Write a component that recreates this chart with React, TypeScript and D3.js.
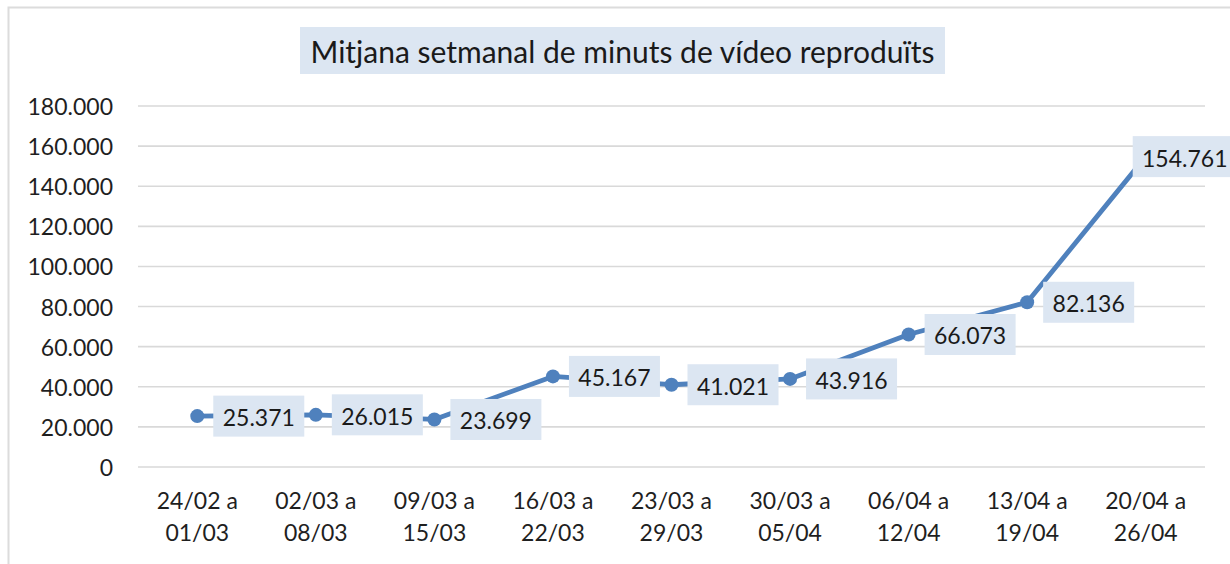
import React from "react";
import * as d3 from "d3";

const categories: string[][] = [
  ["24/02 a", "01/03"],
  ["02/03 a", "08/03"],
  ["09/03 a", "15/03"],
  ["16/03 a", "22/03"],
  ["23/03 a", "29/03"],
  ["30/03 a", "05/04"],
  ["06/04 a", "12/04"],
  ["13/04 a", "19/04"],
  ["20/04 a", "26/04"],
];
const values: number[] = [25371, 26015, 23699, 45167, 41021, 43916, 66073, 82136, 154761];
const yTicks: number[] = [0, 20000, 40000, 60000, 80000, 100000, 120000, 140000, 160000, 180000];
const title = "Mitjana setmanal de minuts de vídeo reproduïts";

const W = 1230;
const H = 564;
const FONT = "Lato, 'Open Sans', sans-serif";

const locale = d3.formatLocale({ decimal: ",", thousands: ".", grouping: [3], currency: ["", "€"] });
const fmt = locale.format(",d");

export default function App() {
  const keys = categories.map((c) => c.join(" "));
  const x = d3.scaleBand<string>().domain(keys).range([138, 1205]);
  const y = d3.scaleLinear().domain([0, 180000]).range([467, 106]);
  const cx = (i: number) => (x(keys[i]) as number) + x.bandwidth() / 2;
  const line = d3
    .line<number>()
    .x((_, i) => cx(i))
    .y((d) => y(d));

  const chartRight = 1236;
  const charW = 13.1;
  const dotW = 5.5;

  return (
    <div style={{ position: "absolute", left: 0, top: 0 }}>
      <svg width={W} height={H} style={{ display: "block", fontFamily: FONT }}>
        <rect x={0} y={0} width={W} height={H} fill="#fff" />
        <rect x={8.5} y={7.5} width={W + 10} height={H + 10} fill="none" stroke="#dcdcdc" strokeWidth={2} />
        {/* title */}
        <rect x={300} y={27} width={645} height={47} fill="#dce6f2" />
        <text x={622.5} y={51} textAnchor="middle" dominantBaseline="central" fontSize={30} fill="#1a1a1a">
          {title}
        </text>
        {/* grid */}
        {yTicks.map((t) => (
          <g key={t}>
            <line x1={138} x2={1205} y1={y(t)} y2={y(t)} stroke="#d9d9d9" strokeWidth={1.6} />
            <text x={113} y={y(t)} textAnchor="end" dominantBaseline="central" fontSize={23} fill="#1f1f1f">
              {fmt(t)}
            </text>
          </g>
        ))}
        {/* x labels */}
        {categories.map((c, i) => (
          <text key={i} x={cx(i)} textAnchor="middle" fontSize={23} fill="#1f1f1f">
            <tspan x={cx(i)} y={500} dominantBaseline="central">{c[0]}</tspan>
            <tspan x={cx(i)} y={532} dominantBaseline="central">{c[1]}</tspan>
          </text>
        ))}
        {/* line */}
        <path d={line(values) as string} fill="none" stroke="#4f81bd" strokeWidth={4.8} strokeLinejoin="round" />
        {values.map((v, i) => (
          <circle key={i} cx={cx(i)} cy={y(v)} r={7} fill="#4f81bd" />
        ))}
        {/* data labels */}
        {values.map((v, i) => {
          const s = fmt(v);
          const tw = (s.length - 1) * charW + dotW;
          const bw = tw + 20;
          let bx = cx(i) + 16;
          if (bx + bw > chartRight) bx = cx(i) - 13;
          const by = y(v);
          return (
            <g key={i}>
              <rect x={bx} y={by - 20.5} width={bw} height={41} fill="#dce6f2" />
              <text x={bx + bw / 2} y={by + 1} textAnchor="middle" dominantBaseline="central" fontSize={23} fill="#1a1a1a">
                {s}
              </text>
            </g>
          );
        })}
      </svg>
    </div>
  );
}
